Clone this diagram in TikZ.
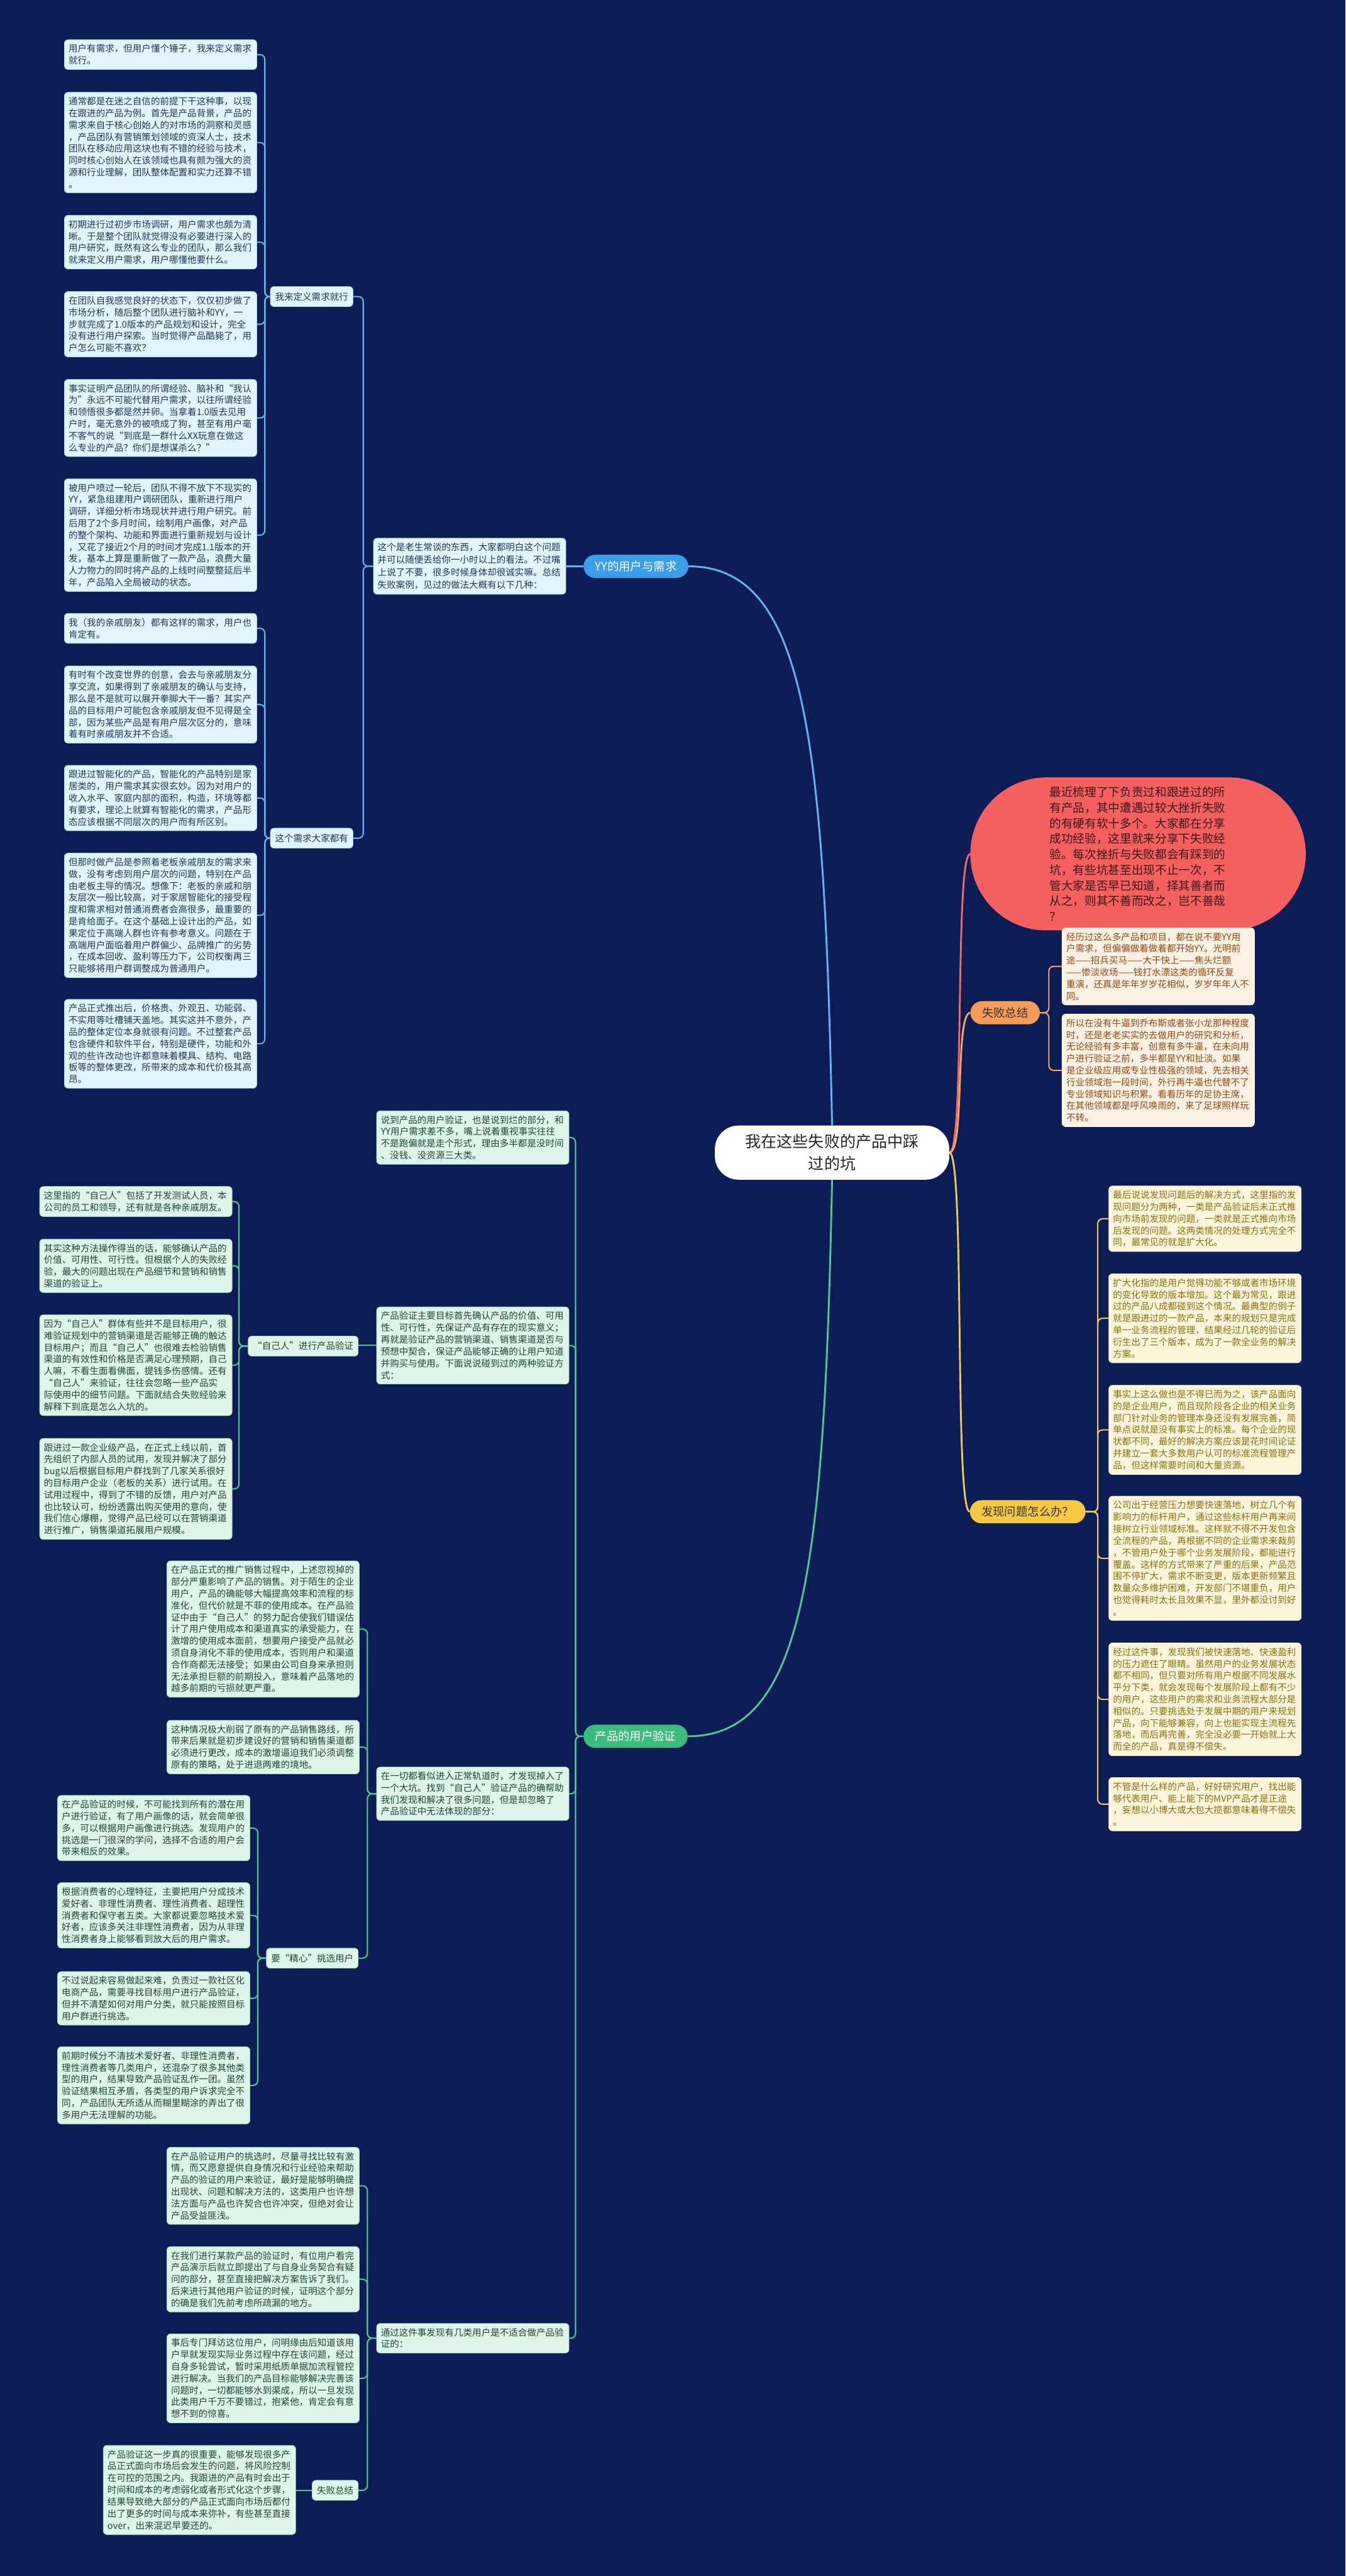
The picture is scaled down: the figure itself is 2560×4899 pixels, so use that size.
\documentclass[tikz,border=0pt]{standalone}
\usepackage{fontspec}
\setmainfont{Noto Sans CJK SC}
\definecolor{navy}{HTML}{0C1C54}
\definecolor{blueline}{HTML}{62B4F0}
\definecolor{bluemain}{HTML}{3A9EE8}
\definecolor{bluefill}{HTML}{E2F4FC}
\definecolor{bluedraw}{HTML}{A6D9F4}
\definecolor{bluetext}{HTML}{1C3A58}
\definecolor{greenline}{HTML}{4FC693}
\definecolor{greenmain}{HTML}{3DBD7D}
\definecolor{greenfill}{HTML}{E0F5EA}
\definecolor{greendraw}{HTML}{9FDCBD}
\definecolor{greentext}{HTML}{1E4634}
\definecolor{redline}{HTML}{EE6868}
\definecolor{redfill}{HTML}{F45F5F}
\definecolor{redtext}{HTML}{3A1818}
\definecolor{orangeline}{HTML}{EDA66C}
\definecolor{orangemain}{HTML}{F79C56}
\definecolor{orangefill}{HTML}{FDF1E4}
\definecolor{orangetext}{HTML}{8C4A12}
\definecolor{yellowline}{HTML}{E8C85A}
\definecolor{yellowmain}{HTML}{F6C940}
\definecolor{yellowfill}{HTML}{FDF6DA}
\definecolor{yellowtext}{HTML}{8B6D12}
\tikzset{
  leaf/.style={anchor=north west, rounded corners=7pt, line width=1pt, align=left,
    text width=350pt, inner xsep=8pt, inner ysep=9pt,
    font=\fontsize{17.4pt}{22.5pt}\selectfont},
  bleaf/.style={leaf, fill=bluefill, draw=bluedraw, text=bluetext},
  gleaf/.style={leaf, fill=greenfill, draw=greendraw, text=greentext},
  oleaf/.style={leaf, fill=orangefill, draw=orangefill, text=orangetext},
  yleaf/.style={leaf, fill=yellowfill, draw=yellowfill, text=yellowtext},
  tag/.style={anchor=east, rounded corners=7pt, line width=1pt, minimum height=38pt,
    inner xsep=9pt, font=\fontsize{17.4pt}{22.5pt}\selectfont},
  btag/.style={tag, fill=bluefill, draw=bluedraw, text=bluetext},
  gtag/.style={tag, fill=greenfill, draw=greendraw, text=greentext},
  topic/.style={anchor=west, rounded corners=22pt, minimum height=44pt, inner xsep=22pt,
    font=\fontsize{22pt}{26pt}\selectfont},
  bcon/.style={draw=blueline, line width=2.5pt, rounded corners=9pt},
  gcon/.style={draw=greenline, line width=2.5pt, rounded corners=9pt},
  ocon/.style={draw=orangeline, line width=2.5pt, rounded corners=9pt},
  ycon/.style={draw=yellowline, line width=2.5pt, rounded corners=9pt}
}
\begin{document}
\begin{tikzpicture}[x=1pt,y=-1pt]
  \fill[navy] (0,0) rectangle (2560,4899);
  \node[fill=white, rounded corners=45pt, minimum width=446pt, minimum height=103pt,
    align=center, text=black!85, font=\fontsize{30pt}{42pt}\selectfont]
    (root) at (1583,2192) {我在这些失败的产品中踩\\过的坑};

  % YY的用户与需求
  \node[topic, fill=bluemain, text=white] (yy) at (1110,1077) {YY的用户与需求};
  \node[bleaf, font=\fontsize{17.4pt}{24pt}\selectfont] (m1) at (710,1023) {这个是老生常谈的东西，大家都明白这个问题\\并可以随便丢给你一小时以上的看法。不过嘴\\上说了不要，很多时候身体却很诚实嘛。总结\\失败案例，见过的做法大概有以下几种：};
  \node[btag] (l1) at (672,564) {我来定义需求就行};
  \node[btag] (l2) at (672,1594) {这个需求大家都有};
  \node[bleaf] (b1) at (122,75) {用户有需求，但用户懂个锤子，我来定义需求\\就行。};
  \node[bleaf] (b2) at (122,175) {通常都是在迷之自信的前提下干这种事，以现\\在跟进的产品为例。首先是产品背景，产品的\\需求来自于核心创始人的对市场的洞察和灵感\\，产品团队有营销策划领域的资深人士，技术\\团队在移动应用这块也有不错的经验与技术，\\同时核心创始人在该领域也具有颇为强大的资\\源和行业理解，团队整体配置和实力还算不错\\。};
  \node[bleaf] (b3) at (122,409) {初期进行过初步市场调研，用户需求也颇为清\\晰。于是整个团队就觉得没有必要进行深入的\\用户研究，既然有这么专业的团队，那么我们\\就来定义用户需求，用户哪懂他要什么。};
  \node[bleaf] (b4) at (122,554) {在团队自我感觉良好的状态下，仅仅初步做了\\市场分析，随后整个团队进行脑补和YY，一\\步就完成了1.0版本的产品规划和设计，完全\\没有进行用户探索。当时觉得产品酷毙了，用\\户怎么可能不喜欢？};
  \node[bleaf] (b5) at (122,721) {事实证明产品团队的所谓经验、脑补和“我认\\为”永远不可能代替用户需求，以往所谓经验\\和领悟很多都是然并卵。当拿着1.0版去见用\\户时，毫无意外的被喷成了狗，甚至有用户毫\\不客气的说“到底是一群什么XX玩意在做这\\么专业的产品？你们是想谋杀么？”};
  \node[bleaf] (b6) at (122,910) {被用户喷过一轮后，团队不得不放下不现实的\\YY，紧急组建用户调研团队，重新进行用户\\调研，详细分析市场现状并进行用户研究。前\\后用了2个多月时间，绘制用户画像，对产品\\的整个架构、功能和界面进行重新规划与设计\\，又花了接近2个月的时间才完成1.1版本的开\\发，基本上算是重新做了一款产品，浪费大量\\人力物力的同时将产品的上线时间整整延后半\\年，产品陷入全局被动的状态。};
  \node[bleaf] (b7) at (122,1166) {我（我的亲戚朋友）都有这样的需求，用户也\\肯定有。};
  \node[bleaf] (b8) at (122,1266) {有时有个改变世界的创意，会去与亲戚朋友分\\享交流，如果得到了亲戚朋友的确认与支持，\\那么是不是就可以展开拳脚大干一番？其实产\\品的目标用户可能包含亲戚朋友但不见得是全\\部，因为某些产品是有用户层次区分的，意味\\着有时亲戚朋友并不合适。};
  \node[bleaf] (b9) at (122,1455) {跟进过智能化的产品，智能化的产品特别是家\\居类的，用户需求其实很玄妙。因为对用户的\\收入水平、家庭内部的面积，构造，环境等都\\有要求，理论上就算有智能化的需求，产品形\\态应该根据不同层次的用户而有所区别。};
  \node[bleaf] (b10) at (122,1622) {但那时做产品是参照着老板亲戚朋友的需求来\\做，没有考虑到用户层次的问题，特别在产品\\由老板主导的情况。想像下：老板的亲戚和朋\\友层次一般比较高，对于家居智能化的接受程\\度和需求相对普通消费者会高很多，最重要的\\是肯给面子。在这个基础上设计出的产品，如\\果定位于高端人群也许有参考意义。问题在于\\高端用户面临着用户群偏少、品牌推广的劣势\\，在成本回收、盈利等压力下，公司权衡再三\\只能够将用户群调整成为普通用户。};
  \node[bleaf] (b11) at (122,1900) {产品正式推出后，价格贵、外观丑、功能弱、\\不实用等吐槽铺天盖地。其实这并不意外，产\\品的整体定位本身就很有问题。不过整套产品\\包含硬件和软件平台，特别是硬件，功能和外\\观的些许改动也许都意味着模具、结构、电路\\板等的整体更改，所带来的成本和代价极其高\\昂。};

  % 产品的用户验证
  \node[topic, fill=greenmain, text=white] (pv) at (1110,3302) {产品的用户验证};
  \node[gleaf] (va) at (716,2112) {说到产品的用户验证，也是说到烂的部分，和\\YY用户需求差不多，嘴上说着重视事实往往\\不是跑偏就是走个形式，理由多半都是没时间\\、没钱、没资源三大类。};
  \node[gleaf] (vb) at (716,2485) {产品验证主要目标首先确认产品的价值、可用\\性、可行性，先保证产品有存在的现实意义；\\再就是验证产品的营销渠道、销售渠道是否与\\预想中契合，保证产品能够正确的让用户知道\\并购买与使用。下面说说碰到过的两种验证方\\式：};
  \node[gleaf] (vc) at (716,3360) {在一切都看似进入正常轨道时，才发现掉入了\\一个大坑。找到“自己人”验证产品的确帮助\\我们发现和解决了很多问题，但是却忽略了\\产品验证中无法体现的部分：};
  \node[gleaf] (vd) at (716,4418) {通过这件事发现有几类用户是不适合做产品验\\证的：};
  \node[gtag] (zj) at (682,2560) {“自己人”进行产品验证};
  \node[gleaf] (c1) at (75,2256) {这里指的“自己人”包括了开发测试人员，本\\公司的员工和领导，还有就是各种亲戚朋友。};
  \node[gleaf] (c2) at (75,2356) {其实这种方法操作得当的话，能够确认产品的\\价值、可用性、可行性。但根据个人的失败经\\验，最大的问题出现在产品细节和营销和销售\\渠道的验证上。};
  \node[gleaf] (c3) at (75,2500) {因为“自己人”群体有些并不是目标用户，很\\难验证规划中的营销渠道是否能够正确的触达\\目标用户；而且“自己人”也很难去检验销售\\渠道的有效性和价格是否满足心理预期，自己\\人嘛，不看生面看佛面，提钱多伤感情。还有\\“自己人”来验证，往往会忽略一些产品实\\际使用中的细节问题。下面就结合失败经验来\\解释下到底是怎么入坑的。};
  \node[gleaf] (c4) at (75,2735) {跟进过一款企业级产品，在正式上线以前，首\\先组织了内部人员的试用，发现并解决了部分\\bug以后根据目标用户群找到了几家关系很好\\的目标用户企业（老板的关系）进行试用。在\\试用过程中，得到了不错的反馈，用户对产品\\也比较认可，纷纷透露出购买使用的意向，使\\我们信心爆棚，觉得产品已经可以在营销渠道\\进行推广，销售渠道拓展用户规模。};
  \node[gleaf] (e1) at (317,2968) {在产品正式的推广销售过程中，上述忽视掉的\\部分严重影响了产品的销售。对于陌生的企业\\用户，产品的确能够大幅提高效率和流程的标\\准化，但代价就是不菲的使用成本。在产品验\\证中由于“自己人”的努力配合使我们错误估\\计了用户使用成本和渠道真实的承受能力，在\\激增的使用成本面前，想要用户接受产品就必\\须自身消化不菲的使用成本，否则用户和渠道\\合作商都无法接受；如果由公司自身来承担则\\无法承担巨额的前期投入，意味着产品落地的\\越多前期的亏损就更严重。};
  \node[gleaf] (e2) at (317,3271) {这种情况极大削弱了原有的产品销售路线，所\\带来后果就是初步建设好的营销和销售渠道都\\必须进行更改，成本的激增逼迫我们必须调整\\原有的策略，处于进退两难的境地。};
  \node[gtag] (jx) at (682,3724) {要“精心”挑选用户};
  \node[gleaf] (f1) at (109,3414) {在产品验证的时候，不可能找到所有的潜在用\\户进行验证，有了用户画像的话，就会简单很\\多，可以根据用户画像进行挑选。发现用户的\\挑选是一门很深的学问，选择不合适的用户会\\带来相反的效果。};
  \node[gleaf] (f2) at (109,3580) {根据消费者的心理特征，主要把用户分成技术\\爱好者、非理性消费者、理性消费者、超理性\\消费者和保守者五类。大家都说要忽略技术爱\\好者，应该多关注非理性消费者，因为从非理\\性消费者身上能够看到放大后的用户需求。};
  \node[gleaf] (f3) at (109,3749) {不过说起来容易做起来难，负责过一款社区化\\电商产品，需要寻找目标用户进行产品验证，\\但并不清楚如何对用户分类，就只能按照目标\\用户群进行挑选。};
  \node[gleaf] (f4) at (109,3892) {前期时候分不清技术爱好者、非理性消费者，\\理性消费者等几类用户，还混杂了很多其他类\\型的用户，结果导致产品验证乱作一团。虽然\\验证结果相互矛盾，各类型的用户诉求完全不\\同，产品团队无所适从而糊里糊涂的弄出了很\\多用户无法理解的功能。};
  \node[gleaf] (g1) at (317,4083) {在产品验证用户的挑选时，尽量寻找比较有激\\情，而又愿意提供自身情况和行业经验来帮助\\产品的验证的用户来验证，最好是能够明确提\\出现状、问题和解决方法的，这类用户也许想\\法方面与产品也许契合也许冲突，但绝对会让\\产品受益匪浅。};
  \node[gleaf] (g2) at (317,4272) {在我们进行某款产品的验证时，有位用户看完\\产品演示后就立即提出了与自身业务契合有疑\\问的部分，甚至直接把解决方案告诉了我们。\\后来进行其他用户验证的时候，证明这个部分\\的确是我们先前考虑所疏漏的地方。};
  \node[gleaf] (g3) at (317,4438) {事后专门拜访这位用户，问明缘由后知道该用\\户早就发现实际业务过程中存在该问题，经过\\自身多轮尝试，暂时采用纸质单据加流程管控\\进行解决。当我们的产品目标能够解决完善该\\问题时，一切都能够水到渠成，所以一旦发现\\此类用户千万不要错过，抱紧他，肯定会有意\\想不到的惊喜。};
  \node[gtag] (sb) at (682,4736) {失败总结};
  \node[gleaf] (h1) at (196,4650) {产品验证这一步真的很重要，能够发现很多产\\品正式面向市场后会发生的问题，将风险控制\\在可控的范围之内。我跟进的产品有时会出于\\时间和成本的考虑弱化或者形式化这个步骤，\\结果导致绝大部分的产品正式面向市场后都付\\出了更多的时间与成本来弥补，有些甚至直接\\over，出来混迟早要还的。};

  % right side
  \node[fill=redfill, rounded corners=145pt, minimum width=638pt, minimum height=291pt,
    text width=336pt, align=left, text=redtext, font=\fontsize{22.3pt}{29.6pt}\selectfont]
    (ell) at (2165,1624) {最近梳理了下负责过和跟进过的所\\有产品，其中遭遇过较大挫折失败\\的有硬有软十多个。大家都在分享\\成功经验，这里就来分享下失败经\\验。每次挫折与失败都会有踩到的\\坑，有些坑甚至出现不止一次，不\\管大家是否早已知道，择其善者而\\从之，则其不善而改之，岂不善哉\\？};
  \node[topic, fill=orangemain, text=black!80] (sz) at (1846,1926) {失败总结};
  \node[oleaf] (o1) at (2020,1764) {经历过这么多产品和项目，都在说不要YY用\\户需求，但偏偏做着做着都开始YY。光明前\\途——招兵买马——大干快上——焦头烂额\\——惨淡收场——钱打水漂这类的循环反复\\重演，还真是年年岁岁花相似，岁岁年年人不\\同。};
  \node[oleaf] (o2) at (2020,1928) {所以在没有牛逼到乔布斯或者张小龙那种程度\\时，还是老老实实的去做用户的研究和分析，\\无论经验有多丰富，创意有多牛逼，在未向用\\户进行验证之前，多半都是YY和扯淡。如果\\是企业级应用或专业性极强的领域，先去相关\\行业领域泡一段时间，外行再牛逼也代替不了\\专业领域知识与积累。看看历年的足协主席，\\在其他领域都是呼风唤雨的，来了足球照样玩\\不转。};
  \node[topic, fill=yellowmain, text=black!80] (fx) at (1845,2875) {发现问题怎么办？};
  \node[yleaf] (y1) at (2109,2255) {最后说说发现问题后的解决方式，这里指的发\\现问题分为两种，一类是产品验证后未正式推\\向市场前发现的问题，一类就是正式推向市场\\后发现的问题。这两类情况的处理方式完全不\\同，最常见的就是扩大化。};
  \node[yleaf] (y2) at (2109,2422) {扩大化指的是用户觉得功能不够或者市场环境\\的变化导致的版本增加。这个最为常见，跟进\\过的产品八成都碰到这个情况。最典型的例子\\就是跟进过的一款产品，本来的规划只是完成\\单一业务流程的管理，结果经过几轮的验证后\\衍生出了三个版本，成为了一款全业务的解决\\方案。};
  \node[yleaf] (y3) at (2109,2634) {事实上这么做也是不得已而为之，该产品面向\\的是企业用户，而且现阶段各企业的相关业务\\部门针对业务的管理本身还没有发展完善，简\\单点说就是没有事实上的标准。每个企业的现\\状都不同，最好的解决方案应该是花时间论证\\并建立一套大多数用户认可的标准流程管理产\\品，但这样需要时间和大量资源。};
  \node[yleaf] (y4) at (2109,2845) {公司出于经营压力想要快速落地，树立几个有\\影响力的标杆用户，通过这些标杆用户再来间\\接树立行业领域标准。这样就不得不开发包含\\全流程的产品，再根据不同的企业需求来裁剪\\，不管用户处于哪个业务发展阶段，都能进行\\覆盖。这样的方式带来了严重的后果，产品范\\围不停扩大，需求不断变更，版本更新频繁且\\数量众多维护困难，开发部门不堪重负，用户\\也觉得耗时太长且效果不显，里外都没讨到好\\。};
  \node[yleaf] (y5) at (2109,3124) {经过这件事，发现我们被快速落地、快速盈利\\的压力遮住了眼睛。虽然用户的业务发展状态\\都不相同，但只要对所有用户根据不同发展水\\平分下类，就会发现每个发展阶段上都有不少\\的用户，这些用户的需求和业务流程大部分是\\相似的。只要挑选处于发展中期的用户来规划\\产品，向下能够兼容，向上也能实现主流程先\\落地，而后再完善，完全没必要一开始就上大\\而全的产品，真是得不偿失。};
  \node[yleaf] (y6) at (2109,3380) {不管是什么样的产品，好好研究用户，找出能\\够代表用户、能上能下的MVP产品才是正途\\，妄想以小博大或大包大揽都意味着得不偿失\\。};

  % connectors
  \draw[blueline, line width=3.5pt] (root.north) .. controls +(-15,-750) and +(220,0) .. (yy.east);
  \draw[greenline, line width=3.5pt] (root.south) .. controls +(-15,750) and +(220,0) .. (pv.east);
  \draw[redline, line width=3.5pt] (root.east) .. controls +(30,0) and +(-30,0) .. (ell.west);
  \draw[orangeline, line width=3.5pt] (root.east) .. controls +(30,0) and +(-30,0) .. (sz.west);
  \draw[yellowline, line width=3.5pt] (root.east) .. controls +(30,0) and +(-30,0) .. (fx.west);
  \draw[bcon] (yy.west) -- (yy.west -| m1.east);
  \foreach \n in {l1,l2} \draw[bcon] (m1.west) -- ++(-19,0) |- (\n.east);
  \foreach \n in {b1,b2,b3,b4,b5,b6} \draw[bcon] (l1.west) -- ++(-10,0) |- (\n.east);
  \foreach \n in {b7,b8,b9,b10,b11} \draw[bcon] (l2.west) -- ++(-10,0) |- (\n.east);
  \foreach \n in {va,vb,vc,vd} \draw[gcon] (pv.west) -- ++(-15,0) |- (\n.east);
  \draw[gcon] (vb.west) -- (vb.west -| zj.east);
  \foreach \n in {c1,c2,c3,c4} \draw[gcon] (zj.west) -- ++(-17,0) |- (\n.east);
  \foreach \n in {e1,e2,jx} \draw[gcon] (vc.west) -- ++(-17,0) |- (\n.east);
  \foreach \n in {f1,f2,f3,f4} \draw[gcon] (jx.west) -- ++(-16,0) |- (\n.east);
  \foreach \n in {g1,g2,g3,sb} \draw[gcon] (vd.west) -- ++(-17,0) |- (\n.east);
  \draw[gcon] (sb.west) -- (sb.west -| h1.east);
  \foreach \n in {o1,o2} \draw[ocon] (sz.east) -- ++(17,0) |- (\n.west);
  \foreach \n in {y1,y2,y3,y4,y5,y6} \draw[ycon] (fx.east) -- ++(23,0) |- (\n.west);
\end{tikzpicture}
\end{document}
